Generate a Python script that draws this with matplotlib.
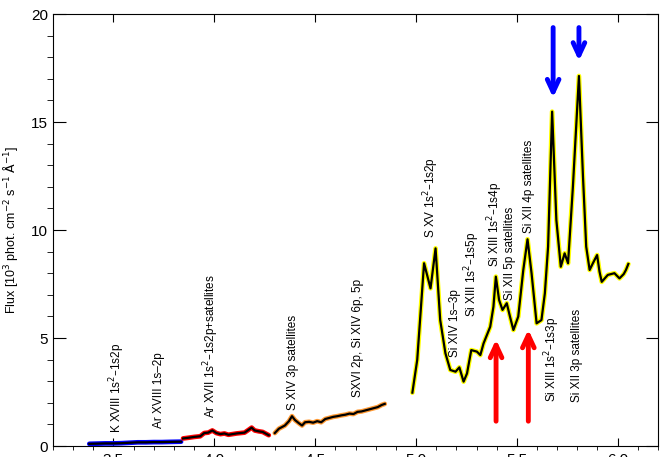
import matplotlib
matplotlib.use('Agg')
import matplotlib.pyplot as plt

plt.rcParams['font.family'] = ['Liberation Sans', 'DejaVu Sans']

# spectrum segments (wavelength in Angstrom, flux in 1e3 phot cm-2 s-1 A-1)
blue_x = [3.38, 3.42, 3.46, 3.50, 3.54, 3.58, 3.62, 3.66, 3.70, 3.74, 3.78, 3.835]
blue_y = [0.10, 0.11, 0.12, 0.12, 0.13, 0.15, 0.17, 0.17, 0.18, 0.18, 0.19, 0.20]

red_x = [3.845, 3.87, 3.90, 3.93, 3.95, 3.97, 3.99, 4.01, 4.03, 4.05, 4.07, 4.09,
         4.11, 4.13, 4.15, 4.17, 4.185, 4.20, 4.22, 4.24, 4.26, 4.27]
red_y = [0.35, 0.38, 0.42, 0.45, 0.60, 0.62, 0.72, 0.60, 0.55, 0.58, 0.52, 0.55,
         0.58, 0.60, 0.62, 0.75, 0.85, 0.72, 0.68, 0.65, 0.55, 0.50]

orange_x = [4.30, 4.32, 4.35, 4.37, 4.385, 4.40, 4.42, 4.435, 4.45, 4.47, 4.49,
            4.51, 4.53, 4.55, 4.57, 4.59, 4.61, 4.63, 4.65, 4.67, 4.69, 4.71,
            4.73, 4.75, 4.77, 4.79, 4.81, 4.83, 4.845]
orange_y = [0.60, 0.80, 0.95, 1.15, 1.38, 1.20, 1.05, 0.95, 1.10, 1.12, 1.08,
            1.15, 1.10, 1.25, 1.30, 1.35, 1.38, 1.42, 1.45, 1.50, 1.48, 1.58,
            1.60, 1.65, 1.70, 1.75, 1.80, 1.90, 1.95]

yellow_x = [4.982, 5.006, 5.04, 5.072, 5.097, 5.12, 5.146, 5.17, 5.196, 5.215,
            5.236, 5.253, 5.274, 5.302, 5.319, 5.335, 5.368, 5.384, 5.396, 5.412,
            5.429, 5.45, 5.466, 5.483, 5.507, 5.532, 5.553, 5.573, 5.598, 5.622,
            5.639, 5.655, 5.675, 5.696, 5.718, 5.737, 5.754, 5.778, 5.808, 5.828,
            5.844, 5.861, 5.877, 5.898, 5.91, 5.921, 5.951, 5.984, 6.009, 6.03,
            6.041, 6.053]
yellow_y = [2.47, 3.98, 8.46, 7.30, 9.15, 5.83, 4.29, 3.52, 3.44, 3.64,
            2.98, 3.36, 4.44, 4.37, 4.21, 4.75, 5.52, 6.45, 7.84, 6.76,
            6.30, 6.61, 5.99, 5.37, 5.99, 8.15, 9.57, 8.00, 5.68, 5.83,
            7.07, 9.23, 15.48, 10.46, 8.30, 8.92, 8.46, 12.00, 17.13, 12.47,
            9.23, 8.15, 8.46, 8.84, 8.07, 7.60, 7.92, 8.00, 7.76, 7.96,
            8.15, 8.43]

# line identifications: (wavelength, flux at text bottom, label)
label_x = [3.52, 3.727, 3.985, 4.39, 4.71, 5.077, 5.195, 5.28, 5.395, 5.468,
           5.56, 5.675, 5.80]
label_y = [0.6, 0.83, 1.3, 1.67, 2.27, 9.63, 4.13, 5.99, 8.3, 6.76, 9.85, 2.05, 2.05]
label_text = [r'K XVIII 1s$^{2}$–1s2p', 'Ar XVIII 1s–2p',
              r'Ar XVII 1s$^{2}$–1s2p+satellites', 'S XIV 3p satellites',
              'SXVI 2p, Si XIV 6p, 5p', r'S XV 1s$^{2}$–1s2p', 'Si XIV 1s–3p',
              r'Si XIII 1s$^{2}$–1s5p', r'Si XIII 1s$^{2}$–1s4p',
              'Si XII 5p satellites', 'Si XII 4p satellites',
              r'Si XIII 1s$^{2}$–1s3p', 'Si XII 3p satellites']

# arrows: x, tail y, head y
red_arrow_x = [5.397, 5.557]
red_arrow_tail = [1.02, 1.02]
red_arrow_head = [5.06, 5.52]
blue_arrow_x = [5.68, 5.808]
blue_arrow_tail = [19.5, 19.5]
blue_arrow_head = [16.0, 17.7]

fig = plt.figure(figsize=(6.7, 4.57), dpi=100)
ax = fig.add_axes([53 / 670, 11 / 457, 605 / 670, 432 / 457])

for xs, ys, c in [(blue_x, blue_y, 'blue'), (red_x, red_y, 'red'),
                  (orange_x, orange_y, '#FF9A33'), (yellow_x, yellow_y, '#FFFF00')]:
    ax.plot(xs, ys, color=c, lw=3.4, solid_capstyle='round')
    ax.plot(xs, ys, color='black', lw=1.6)

for x, y, t in zip(label_x, label_y, label_text):
    ax.text(x, y, t, rotation=90, ha='center', va='bottom', fontsize=8.5)

for x, t, h in zip(red_arrow_x, red_arrow_tail, red_arrow_head):
    ax.annotate('', xy=(x, h), xytext=(x, t),
                arrowprops=dict(arrowstyle='->,head_length=0.9,head_width=0.42',
                                color='red', lw=3.5))
for x, t, h in zip(blue_arrow_x, blue_arrow_tail, blue_arrow_head):
    ax.annotate('', xy=(x, h), xytext=(x, t),
                arrowprops=dict(arrowstyle='->,head_length=0.9,head_width=0.42',
                                color='blue', lw=3.5))

ax.set_xlim(3.2, 6.2)
ax.set_ylim(0, 20)
ax.set_xticks([3.5, 4.0, 4.5, 5.0, 5.5, 6.0])
ax.set_xticks([3.2 + 0.1 * i for i in range(31)], minor=True)
ax.set_yticks([0, 5, 10, 15, 20])
ax.set_yticks(range(21), minor=True)
ax.tick_params(direction='in', top=True, right=True, labelsize=11)
ax.tick_params(axis='x', which='major', length=6, pad=5)
ax.tick_params(axis='x', which='minor', length=3)
ax.tick_params(axis='y', which='major', length=9)
ax.tick_params(axis='y', which='minor', length=4.5)
ax.set_ylabel(r'Flux [10$^3$ phot. cm$^{-2}$ s$^{-1}$ $\mathrm{\AA}^{-1}$]', fontsize=9)
ax.yaxis.set_label_coords(-0.055, 0.5)

fig.savefig('out.png', dpi=100)
